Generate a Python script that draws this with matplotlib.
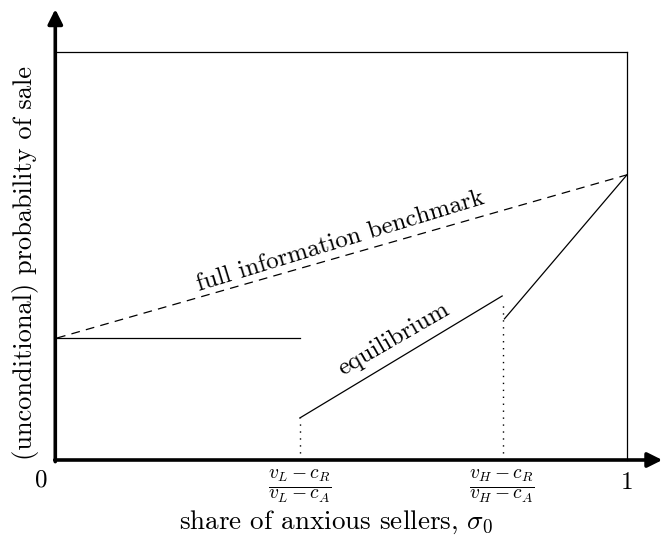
import matplotlib
matplotlib.use("Agg")
import matplotlib.pyplot as plt

plt.rcParams["font.family"] = "cmr10"
plt.rcParams["mathtext.fontset"] = "cm"
plt.rcParams["axes.formatter.use_mathtext"] = True

# ---- data (share of anxious sellers, probability of sale) ----
x_low = 0.426     # (vL - cR)/(vL - cA)
x_high = 0.781    # (vH - cR)/(vH - cA)

bench_x = [0.0, 1.0]
bench_y = [0.299, 0.699]

eq1_x = [0.0, x_low]
eq1_y = [0.299, 0.299]
eq2_x = [x_low, x_high]
eq2_y = [0.103, 0.402]
eq3_x = [x_high + 0.004, 1.0]
eq3_y = [0.346, 0.699]

tick_pos = [x_low, x_high]
tick_labels = [r"$\frac{v_L - c_R}{v_L - c_A}$", r"$\frac{v_H - c_R}{v_H - c_A}$"]

fig = plt.figure(figsize=(6.65, 5.38), dpi=100)
ax = fig.add_axes([57 / 665, 78 / 538, 570 / 665, 408 / 538])
ax.set_xlim(0, 1)
ax.set_ylim(0, 1)
ax.axis("off")

# axes with arrows
ax.annotate("", xy=(1.062, 0), xytext=(-0.004, 0), xycoords="data",
            arrowprops=dict(arrowstyle="-|>", lw=2.6, color="black", mutation_scale=22,
                            shrinkA=0, shrinkB=0), annotation_clip=False)
ax.annotate("", xy=(-0.003, 1.105), xytext=(-0.003, -0.004), xycoords="data",
            arrowprops=dict(arrowstyle="-|>", lw=2.6, color="black", mutation_scale=22,
                            shrinkA=0, shrinkB=0), annotation_clip=False)

# box
ax.plot([0, 1], [1, 1], color="black", lw=0.9, clip_on=False)
ax.plot([1, 1], [0, 1], color="black", lw=0.9, clip_on=False)

# benchmark and equilibrium
ax.plot(bench_x, bench_y, color="black", lw=0.9, ls=(0, (7, 5)))
for xs, ys in [(eq1_x, eq1_y), (eq2_x, eq2_y), (eq3_x, eq3_y)]:
    ax.plot(xs, ys, color="black", lw=0.9)

# dotted guides
ax.plot([x_low, x_low], [0, eq2_y[0]], color="black", lw=1.0, ls=(0, (1, 4)))
ax.plot([x_high + 0.002, x_high + 0.002], [0, 0.38], color="black", lw=1.0, ls=(0, (1, 4)))

# labels on lines
ax.text(0.497, 0.535, "full information benchmark", fontsize=18, rotation=17,
        ha="center", va="center")
ax.text(0.59, 0.295, "equilibrium", fontsize=18, rotation=30,
        ha="center", va="center")

# tick labels
ax.text(-0.028, -0.05, "0", fontsize=18, ha="center", va="center")
ax.text(1.0, -0.055, "1", fontsize=18, ha="center", va="center")
for p, lab in zip(tick_pos, tick_labels):
    ax.text(p, -0.063, lab, fontsize=20, ha="center", va="center")

ax.text(0.49, -0.152, r"share of anxious sellers, $\sigma_0$", fontsize=19.5,
        ha="center", va="center")
ax.text(-0.055, 0.483, "(unconditional) probability of sale", fontsize=19,
        rotation=90, ha="center", va="center")

fig.savefig("out.png", dpi=100)
